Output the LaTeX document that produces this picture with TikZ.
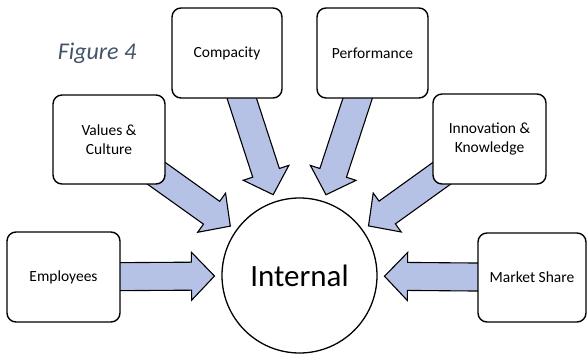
\documentclass[tikz,border=0pt]{standalone}
\usepackage{fontspec}
\setmainfont{Carlito}
\usetikzlibrary{calc,backgrounds}
\definecolor{arrowfill}{RGB}{182,194,229}
\definecolor{captiongray}{RGB}{68,84,106}
\tikzset{
  factor/.style={draw=black, line width=1.4pt, rounded corners=9pt, fill=white,
    align=center, inner sep=0pt, font=\fontsize{15.5}{19}\selectfont},
  hub/.style={circle, draw=black, line width=1.3pt, fill=white, inner sep=0pt,
    minimum size=155pt, font=\fontsize{31}{36}\selectfont},
  fatarrow/.style={draw=black, line width=1.1pt, fill=arrowfill, line join=miter},
}
% block arrow from #1 to the tip #2
\newcommand\fatarrow[2]{%
  \coordinate (hb) at ($(#2)!23pt!(#1)$);
  \draw[fatarrow] ($(#1)!14pt!90:(#2)$) -- ($(hb)!14pt!-90:(#1)$)
    -- ($(hb)!24pt!-90:(#1)$) -- (#2) -- ($(hb)!24pt!90:(#1)$)
    -- ($(hb)!14pt!90:(#1)$) -- ($(#1)!14pt!-90:(#2)$) -- cycle;}
\begin{document}
\begin{tikzpicture}[x=1pt,y=-1pt]
\useasboundingbox (0,0) rectangle (587,356);

\node[hub] (int) at (299.5,275.5) {Internal};

\node[factor, minimum width=113pt, minimum height=90pt] (emp)  at (63.5,277)  {Employees};
\node[factor, minimum width=112pt, minimum height=89pt] (val)  at (109,139.5) {Values \&\\Culture};
\node[factor, minimum width=110pt, minimum height=90pt] (comp) at (227,53)    {Compacity};
\node[factor, minimum width=111pt, minimum height=90pt] (perf) at (372.5,53)  {Performance};
\node[factor, minimum width=113pt, minimum height=90pt] (inn)  at (489.5,139) {Innovation \&\\Knowledge};
\node[factor, minimum width=108pt, minimum height=89pt] (mkt)  at (532,277.5) {Market Share};

\node[font=\fontsize{24}{28}\selectfont\itshape, text=captiongray] (cap) at (97,53) {Figure 4};

\begin{scope}[on background layer]
  \foreach \b in {emp,val,comp,perf,inn,mkt}{
    \coordinate (tip-\b) at ($(int.center)!85pt!(\b.center)$);
    \fatarrow{\b.center}{tip-\b}
  }
\end{scope}
\end{tikzpicture}
\end{document}
